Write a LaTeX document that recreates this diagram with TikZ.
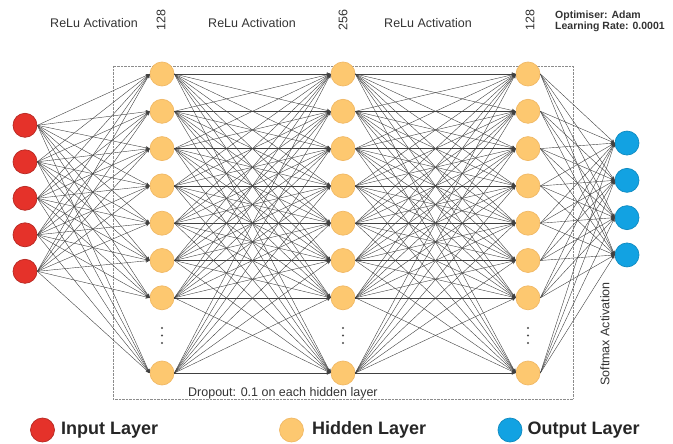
\documentclass[tikz,border=0pt]{standalone}
\usepackage{fontspec}
\setmainfont{Liberation Sans}
\usetikzlibrary{arrows.meta,positioning}

\definecolor{inred}{HTML}{E5322A}
\definecolor{hidorange}{HTML}{FDC870}
\definecolor{outblue}{HTML}{12A2E2}

\tikzset{
	neuron/.style={circle, minimum size=24pt, inner sep=0pt, line width=0.7pt},
	inneuron/.style={neuron, fill=inred, draw=inred!80!black},
	hidneuron/.style={neuron, fill=hidorange, draw=hidorange!80!brown},
	outneuron/.style={neuron, fill=outblue, draw=outblue!85!black},
	conn/.style={black!75, line width=0.4pt, -{Stealth[length=4pt,width=3.5pt]}},
	lbl/.style={text=black!80, inner sep=1pt, font=\fontsize{12.5}{14}\selectfont},
	leg/.style={text=black!85, inner sep=1pt, font=\bfseries\fontsize{18}{20}\selectfont},
}

\begin{document}
\begin{tikzpicture}[x=1pt,y=-1pt]
	\useasboundingbox (0,0) rectangle (673,444);
	% dropout box
	\draw [black!45, densely dotted] (113,66) rectangle (573,399);

	% input layer
	\foreach \i in {1,...,5}
		\node [inneuron] (in-\i) at (25,{198.3+36.5*(\i-3)}) {};

	% hidden layers
	\foreach \l/\x in {1/162, 2/343, 3/528} {
		\foreach \i in {1,...,7}
			\node [hidneuron] (h\l-\i) at (\x,{74+37.3*(\i-1)}) {};
		\node [hidneuron] (h\l-8) at (\x,373) {};
		\foreach \k in {328,335.5,343}
			\fill [black!70] (\x,\k) circle [radius=1.1];
	}

	% output layer
	\foreach \i in {1,...,4}
		\node [outneuron] (out-\i) at (627,{199+37.3*(\i-2.5)}) {};

	% connections
	\foreach \i in {1,...,5}
		\foreach \j in {1,...,8}
			\draw [conn] (in-\i.east) -- (h1-\j.west);
	\foreach \i in {1,...,8}
		\foreach \j in {1,...,8} {
			\draw [conn] (h1-\i.east) -- (h2-\j.west);
			\draw [conn] (h2-\i.east) -- (h3-\j.west);
		}
	\foreach \i in {1,...,8}
		\foreach \j in {1,...,4}
			\draw [conn] (h3-\i.east) -- (out-\j.west);

	% labels
	\node [lbl] (act-1) at (94,23) {ReLu Activation};
	\node [lbl] (act-2) at (252,23) {ReLu Activation};
	\node [lbl] (act-3) at (428,23) {ReLu Activation};
	\node [lbl, rotate=90] (size-1) at (161,20) {128};
	\node [lbl, rotate=90] (size-2) at (343,20) {256};
	\node [lbl, rotate=90] (size-3) at (530,20) {128};
	\node [lbl, anchor=west, align=left, font=\bfseries\fontsize{10.5}{11}\selectfont] (optim) at (554,21) {Optimiser: Adam\\Learning Rate: 0.0001};
	\node [lbl, anchor=base west] (dropout) at (187,396) {Dropout: 0.1 on each hidden layer};
	\node [lbl, rotate=90] (softmax) at (605,334) {Softmax Activation};

	% legend
	\node [inneuron] (key-in) at (42.5,430) {};
	\node [leg, right=5pt of key-in] (key-in-text) {Input Layer};
	\node [hidneuron] (key-hid) at (291.5,430) {};
	\node [leg, right=7pt of key-hid] (key-hid-text) {Hidden Layer};
	\node [outneuron] (key-out) at (510,430) {};
	\node [leg, right=4pt of key-out] (key-out-text) {Output Layer};
\end{tikzpicture}
\end{document}
